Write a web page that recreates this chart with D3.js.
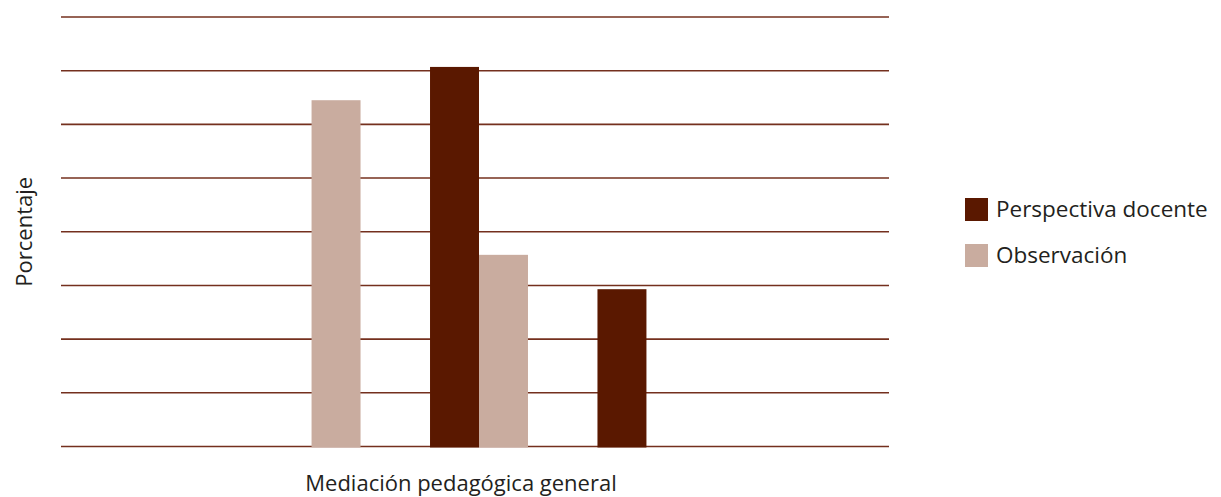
<!DOCTYPE html>
<html>
<head>
<meta charset="utf-8">
<script src="https://cdn.jsdelivr.net/npm/d3@7"></script>
<style>
  body { margin: 0; background: #fff; }
  text { font-family: "Open Sans", "Noto Sans", sans-serif; fill: #231f20; }
</style>
</head>
<body>
<div id="chart"></div>
<script>
// values (percent)
const categories = ["Bajo", "Medio", "Alto"];
const seriesNames = ["Perspectiva docente", "Observación"];
const perspectiva = [0, 70.7, 29.3];
const observacion = [64.5, 35.7, 0];
const yTicks = [0, 10, 20, 30, 40, 50, 60, 70, 80];

document.addEventListener('DOMContentLoaded', function () {
    const width = 1221,
        height = 497,
        left = 61,
        right = 889,
        top = 17,
        bottom = 446.5;

    const colors = ["#5a1800", "#c9ac9f"];

    const svg = d3.select("#chart")
                    .append("svg")
                    .attr("width", width)
                    .attr("height", height);

    const y = d3.scaleLinear()
                .domain([0, 80])
                .range([bottom, top]);

    // bars sit a little right of the plot centre in the original
    const x = d3.scaleBand()
                .domain(categories)
                .range([left + 4, right + 4])
                .paddingInner(0.415)
                .paddingOuter(1.18);

    const x1 = d3.scaleBand()
                .domain(seriesNames)
                .range([0, x.bandwidth()]);

    // gridlines
    svg.append("g")
        .selectAll("line")
        .data(yTicks)
        .enter()
        .append("line")
        .attr("x1", left)
        .attr("x2", right)
        .attr("y1", d => y(d))
        .attr("y2", d => y(d))
        .attr("stroke", "#74301e")
        .attr("stroke-width", 1.6);

    const rows = categories.map((c, i) => ({
        cat: c,
        values: [perspectiva[i], observacion[i]]
    }));

    const groups = svg.append("g")
                    .selectAll("g")
                    .data(rows)
                    .enter()
                    .append("g")
                    .attr("transform", d => "translate(" + x(d.cat) + ",0)");

    groups.selectAll("rect")
        .data(d => d.values.map((v, i) => ({ v: v, s: seriesNames[i], i: i })))
        .enter()
        .filter(d => d.v > 0)
        .append("rect")
        .attr("x", d => x1(d.s))
        .attr("width", x1.bandwidth())
        .attr("y", d => y(d.v))
        .attr("height", d => y(0) - y(d.v) + 1)
        .attr("fill", d => colors[d.i]);

    // axis titles
    svg.append("text")
        .attr("transform", "translate(32," + ((top + bottom) / 2) + ") rotate(-90)")
        .attr("text-anchor", "middle")
        .attr("font-size", 22)
        .text("Porcentaje");

    svg.append("text")
        .attr("x", 461)
        .attr("y", 491)
        .attr("text-anchor", "middle")
        .attr("font-size", 22)
        .text("Mediación pedagógica general");

    // legend
    const legend = svg.append("g")
                    .selectAll("g")
                    .data(seriesNames)
                    .enter()
                    .append("g")
                    .attr("transform", (d, i) => "translate(965," + (198 + i * 46) + ")");

    legend.append("rect")
        .attr("width", 23)
        .attr("height", 23)
        .attr("fill", (d, i) => colors[i]);

    legend.append("text")
        .attr("x", 31)
        .attr("y", 19)
        .attr("font-size", 22.5)
        .text(d => d);
});
</script>
</body>
</html>
